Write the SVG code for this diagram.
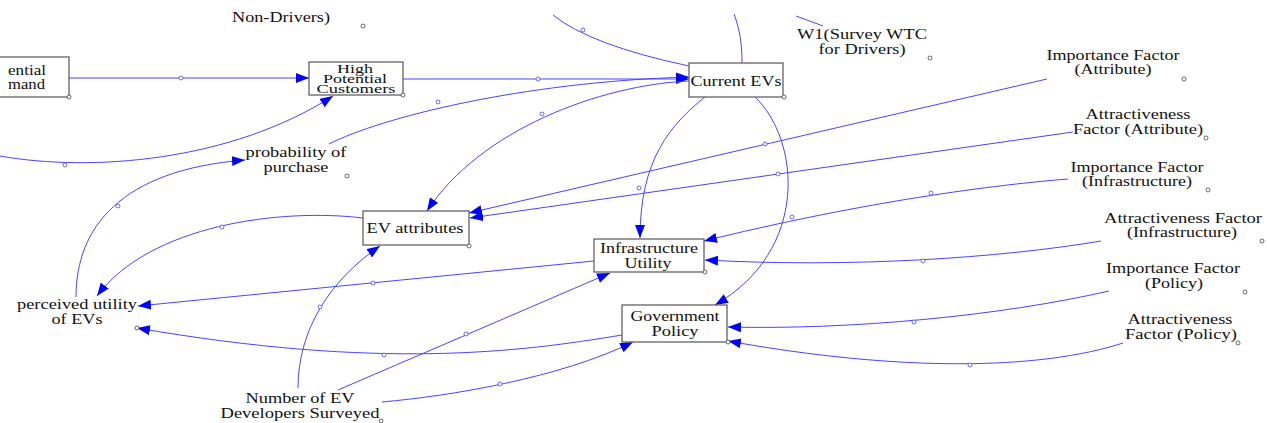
<svg xmlns="http://www.w3.org/2000/svg" width="1267" height="423" viewBox="0 0 1267 423" font-family="Liberation Serif, Times New Roman, serif">
<style>
text{font-size:15px;fill:#111;text-anchor:middle}
.sm{font-size:12px}
.box{fill:#fff;stroke:#555;stroke-width:1.2}
.c{fill:none;stroke:#4646ff;stroke-width:1}
.dot{fill:#fff;stroke:#4646ff;stroke-width:0.8}
.vd{fill:#fff;stroke:#444;stroke-width:0.8}
</style>
<defs>
<marker id="arr" markerUnits="userSpaceOnUse" markerWidth="13" markerHeight="10" refX="13" refY="5" orient="auto">
<path d="M0,0 L13,5 L0,10 z" fill="#0000ff"/>
</marker>
</defs>
<rect width="1267" height="423" fill="#fff"/>
<g id="connectors">
<path class="c" d="M69,78 L309,78" marker-end="url(#arr)"/>
<path class="c" d="M0,156 C90,172 230,162 333,96" marker-end="url(#arr)"/>
<path class="c" d="M403,79 L689,79" marker-end="url(#arr)"/>
<path class="c" d="M329,144 C380,118 520,82 689,77" marker-end="url(#arr)"/>
<path class="c" d="M76,297 C76,228 120,170 245,160" marker-end="url(#arr)"/>
<path class="c" d="M689,81 C600,85 480,130 427,211" marker-end="url(#arr)"/>
<path class="c" d="M553,15 Q590,45 689,66"/>
<path class="c" d="M734,14 C740,30 742,45 742,63"/>
<path class="c" d="M796,16 L823,26"/>
<path class="c" d="M705,97 C670,125 640,160 640,238" marker-end="url(#arr)"/>
<path class="c" d="M755,97 C800,140 810,250 715,305" marker-end="url(#arr)"/>
<path class="c" d="M1047,79 L469,213" marker-end="url(#arr)"/>
<path class="c" d="M1073,132 L470,218" marker-end="url(#arr)"/>
<path class="c" d="M1068,179 C980,186 850,205 704,241" marker-end="url(#arr)"/>
<path class="c" d="M1101,241 C1000,258 850,268 705,260" marker-end="url(#arr)"/>
<path class="c" d="M1109,291 C1000,316 850,330 728,327" marker-end="url(#arr)"/>
<path class="c" d="M1123,343 C1040,370 900,372 728,341" marker-end="url(#arr)"/>
<path class="c" d="M363,218 C280,208 150,225 97,296" marker-end="url(#arr)"/>
<path class="c" d="M594,261 L138,306" marker-end="url(#arr)"/>
<path class="c" d="M622,335 C520,352 380,370 137,328" marker-end="url(#arr)"/>
<path class="c" d="M298,388 C298,330 330,280 380,246" marker-end="url(#arr)"/>
<path class="c" d="M338,390 L610,273" marker-end="url(#arr)"/>
<path class="c" d="M382,402 C450,396 560,378 633,342" marker-end="url(#arr)"/>
<circle class="dot" cx="181" cy="78" r="2"/>
<circle class="dot" cx="65" cy="165" r="2"/>
<circle class="dot" cx="538" cy="79" r="2"/>
<circle class="dot" cx="438" cy="102" r="2"/>
<circle class="dot" cx="118" cy="206" r="2"/>
<circle class="dot" cx="542" cy="114" r="2"/>
<circle class="dot" cx="583" cy="30" r="2"/>
<circle class="dot" cx="639" cy="188" r="2"/>
<circle class="dot" cx="792" cy="217" r="2"/>
<circle class="dot" cx="765" cy="144" r="2"/>
<circle class="dot" cx="778" cy="174" r="2"/>
<circle class="dot" cx="931" cy="193" r="2"/>
<circle class="dot" cx="923" cy="261" r="2"/>
<circle class="dot" cx="914" cy="322" r="2"/>
<circle class="dot" cx="970" cy="365" r="2"/>
<circle class="dot" cx="222" cy="227" r="2"/>
<circle class="dot" cx="373" cy="283" r="2"/>
<circle class="dot" cx="384" cy="355" r="2"/>
<circle class="dot" cx="320" cy="307" r="2"/>
<circle class="dot" cx="466" cy="334" r="2"/>
<circle class="dot" cx="500" cy="384" r="2"/>
</g>
<g id="potential-demand">
<rect class="box" x="-20" y="57" width="89" height="40"/>
<text x="8" y="75" style="text-anchor:start" textLength="38" lengthAdjust="spacingAndGlyphs">ential</text>
<text x="8" y="89" style="text-anchor:start" textLength="37" lengthAdjust="spacingAndGlyphs">mand</text>
<circle class="vd" cx="69" cy="97" r="2"/>
</g>
<g id="high-potential-customers">
<rect class="box" x="309" y="62" width="94" height="33"/>
<text class="sm" x="355" y="73" textLength="36" lengthAdjust="spacingAndGlyphs">High</text>
<text class="sm" x="355" y="83" textLength="64" lengthAdjust="spacingAndGlyphs">Potential</text>
<text class="sm" x="356" y="93" textLength="79" lengthAdjust="spacingAndGlyphs">Customers</text>
<circle class="vd" cx="403" cy="95" r="2"/>
</g>
<g id="current-evs">
<rect class="box" x="689" y="63" width="94" height="34"/>
<text x="736" y="86" textLength="91" lengthAdjust="spacingAndGlyphs">Current EVs</text>
<circle class="vd" cx="784" cy="97" r="2"/>
</g>
<g id="ev-attributes">
<rect class="box" x="363" y="211" width="106" height="34"/>
<text x="415" y="233" textLength="97" lengthAdjust="spacingAndGlyphs">EV attributes</text>
<circle class="vd" cx="469" cy="246" r="2"/>
</g>
<g id="infrastructure-utility">
<rect class="box" x="594" y="239" width="110" height="33"/>
<text x="649" y="253" textLength="98" lengthAdjust="spacingAndGlyphs">Infrastructure</text>
<text x="648" y="268" textLength="47" lengthAdjust="spacingAndGlyphs">Utility</text>
<circle class="vd" cx="705" cy="272" r="2"/>
</g>
<g id="government-policy">
<rect class="box" x="622" y="305" width="105" height="37"/>
<text x="675" y="321" textLength="89" lengthAdjust="spacingAndGlyphs">Government</text>
<text x="675" y="336" textLength="47" lengthAdjust="spacingAndGlyphs">Policy</text>
<circle class="vd" cx="728" cy="342" r="2"/>
</g>
<g id="w2-non-drivers">
<text x="281" y="22" textLength="98" lengthAdjust="spacingAndGlyphs">Non-Drivers)</text>
<circle class="vd" cx="363" cy="26" r="2"/>
</g>
<g id="w1-drivers">
<text x="862" y="39" textLength="130" lengthAdjust="spacingAndGlyphs">W1(Survey WTC</text>
<text x="862" y="54" textLength="87" lengthAdjust="spacingAndGlyphs">for Drivers)</text>
<circle class="vd" cx="930" cy="58" r="2"/>
</g>
<g id="importance-attribute">
<text x="1113" y="60" textLength="133" lengthAdjust="spacingAndGlyphs">Importance Factor</text>
<text x="1113" y="74" textLength="77" lengthAdjust="spacingAndGlyphs">(Attribute)</text>
<circle class="vd" cx="1184" cy="79" r="2"/>
</g>
<g id="attractiveness-attribute">
<text x="1138" y="119" textLength="105" lengthAdjust="spacingAndGlyphs">Attractiveness</text>
<text x="1138" y="134" textLength="130" lengthAdjust="spacingAndGlyphs">Factor (Attribute)</text>
<circle class="vd" cx="1206" cy="138" r="2"/>
</g>
<g id="importance-infrastructure">
<text x="1137" y="172" textLength="133" lengthAdjust="spacingAndGlyphs">Importance Factor</text>
<text x="1137" y="186" textLength="110" lengthAdjust="spacingAndGlyphs">(Infrastructure)</text>
<circle class="vd" cx="1208" cy="190" r="2"/>
</g>
<g id="attractiveness-infrastructure">
<text x="1183" y="223" textLength="158" lengthAdjust="spacingAndGlyphs">Attractiveness Factor</text>
<text x="1182" y="237" textLength="110" lengthAdjust="spacingAndGlyphs">(Infrastructure)</text>
<circle class="vd" cx="1262" cy="241" r="2"/>
</g>
<g id="importance-policy">
<text x="1173" y="273" textLength="134" lengthAdjust="spacingAndGlyphs">Importance Factor</text>
<text x="1174" y="288" textLength="58" lengthAdjust="spacingAndGlyphs">(Policy)</text>
<circle class="vd" cx="1245" cy="292" r="2"/>
</g>
<g id="attractiveness-policy">
<text x="1180" y="324" textLength="105" lengthAdjust="spacingAndGlyphs">Attractiveness</text>
<text x="1181" y="339" textLength="112" lengthAdjust="spacingAndGlyphs">Factor (Policy)</text>
<circle class="vd" cx="1238" cy="343" r="2"/>
</g>
<g id="probability-of-purchase">
<text x="296" y="157" textLength="101" lengthAdjust="spacingAndGlyphs">probability of</text>
<text x="296" y="172" textLength="65" lengthAdjust="spacingAndGlyphs">purchase</text>
<circle class="vd" cx="347" cy="176" r="2"/>
</g>
<g id="perceived-utility">
<text x="77" y="309" textLength="120" lengthAdjust="spacingAndGlyphs">perceived utility</text>
<text x="77" y="324" textLength="51" lengthAdjust="spacingAndGlyphs">of EVs</text>
<circle class="vd" cx="137" cy="328" r="2"/>
</g>
<g id="ev-developers-surveyed">
<text x="300" y="403" textLength="109" lengthAdjust="spacingAndGlyphs">Number of EV</text>
<text x="300" y="418" textLength="159" lengthAdjust="spacingAndGlyphs">Developers Surveyed</text>
<circle class="vd" cx="381" cy="421" r="2"/>
</g>
</svg>
